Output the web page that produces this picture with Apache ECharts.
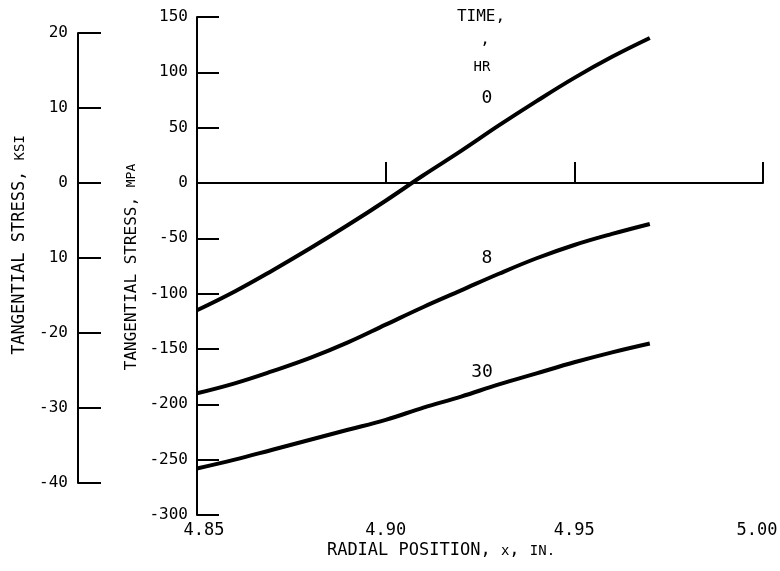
<!DOCTYPE html>
<html>
<head>
<meta charset="utf-8">
<script src="https://cdn.jsdelivr.net/npm/echarts@6/dist/echarts.min.js"></script>
<style>
html,body{margin:0;padding:0;background:#fff;}
#c{width:780px;height:571px;}
</style>
</head>
<body>
<div id="c"></div>
<script>
// Data
var xPositions = [4.85, 4.86, 4.87, 4.88, 4.89, 4.90, 4.91, 4.92, 4.93, 4.94, 4.95, 4.96, 4.97];
var stressHr0  = [-115, -98, -79, -59, -38, -16, 7, 29, 52, 74, 95, 114, 131];
var stressHr8  = [-190, -181, -170, -158, -144, -128, -112, -97, -82, -68, -56, -46, -37];
var stressHr30 = [-258, -250, -241, -232, -223, -214, -203, -193, -182, -172, -162, -153, -145];
var seriesNames = ['0', '8', '30'];
var xTicks = [4.85, 4.90, 4.95, 5.00];
var mpaTicks = [-300, -250, -200, -150, -100, -50, 0, 50, 100, 150];
var ksiTicks = [-40, -30, -20, -10, 0, 10, 20];
var ksiTickLabels = ['-40', '-30', '-20', '10', '0', '10', '20'];

var FONT = '"DejaVu Sans Mono", "Liberation Mono", monospace';
var chart = echarts.init(document.getElementById('c'));

function pairs(xs, ys) { return xs.map(function (x, i) { return [x, ys[i]]; }); }
var lineStyle = { color: '#000', width: 4 };
function mkSeries(name, ys, extra) {
  var s = {
    name: name, type: 'line', xAxisIndex: 0, yAxisIndex: 0,
    data: pairs(xPositions, ys), smooth: 0.4, showSymbol: false, silent: true,
    lineStyle: lineStyle, z: 5
  };
  if (extra) for (var k in extra) s[k] = extra[k];
  return s;
}

var option = {
  backgroundColor: '#fff',
  animation: false,
  textStyle: { fontFamily: FONT, color: '#000' },
  grid: [
    { left: 197, top: 17, right: 17, bottom: 56, containLabel: false, outerBoundsMode: 'none' },
    { left: 78, top: 33, width: 40, height: 450, containLabel: false, outerBoundsMode: 'none' }
  ],
  xAxis: [
    {
      type: 'value', gridIndex: 0, min: 4.85, max: 5.00, interval: 0.05,
      axisLine: { show: true, lineStyle: { color: '#000', width: 2 } },
      axisTick: { show: true, inside: true, length: 21, lineStyle: { color: '#000', width: 2 } },
      splitLine: { show: false },
      axisLabel: { color: '#000', fontFamily: FONT, fontSize: 17, margin: 7,
        formatter: function (v) {
          var t = v.toFixed(2);
          if (t === xTicks[0].toFixed(2)) return '{l|' + t + '}';
          if (t === xTicks[xTicks.length - 1].toFixed(2)) return '{r|' + t + '}';
          return t;
        },
        rich: {
          l: { fontFamily: FONT, fontSize: 17, color: '#000', padding: [0, 0, 0, 14] },
          r: { fontFamily: FONT, fontSize: 17, color: '#000', padding: [0, 12, 0, 0] }
        } }
    },
    { type: 'value', gridIndex: 1, show: false, min: 0, max: 1 }
  ],
  yAxis: [
    {
      type: 'value', gridIndex: 0, min: -300, max: 150, interval: 50,
      axisLine: { show: true, lineStyle: { color: '#000', width: 2 } },
      axisTick: { show: true, inside: true, length: 22, lineStyle: { color: '#000', width: 2 } },
      splitLine: { show: false },
      axisLabel: { color: '#000', fontFamily: FONT, fontSize: 16, margin: 9 }
    },
    {
      type: 'value', gridIndex: 1, min: -40, max: 20, interval: 10, position: 'left',
      axisLine: { show: true, onZero: false, lineStyle: { color: '#000', width: 2 } },
      axisTick: { show: true, inside: true, length: 23, lineStyle: { color: '#000', width: 2 } },
      splitLine: { show: false },
      axisLabel: { color: '#000', fontFamily: FONT, fontSize: 16, margin: 10,
        formatter: function (v) {
          var i = ksiTicks.indexOf(Math.round(v));
          return i >= 0 ? ksiTickLabels[i] : '';
        } }
    }
  ],
  series: [
    mkSeries(seriesNames[0], stressHr0, {
      markLine: {
        silent: true, symbol: ['none', 'none'], label: { show: false },
        lineStyle: { color: '#000', width: 2, type: 'solid' },
        data: [{ yAxis: 0 }]
      }
    }),
    mkSeries(seriesNames[1], stressHr8),
    mkSeries(seriesNames[2], stressHr30)
  ],
  graphic: [
    { type: 'text', x: 481, y: 17, style: { text: 'TIME,', font: '16px ' + FONT, fill: '#000', align: 'center', verticalAlign: 'middle' } },
    { type: 'text', x: 485, y: 40, style: { text: ',', font: '16px ' + FONT, fill: '#000', align: 'center', verticalAlign: 'middle' } },
    { type: 'text', x: 482, y: 67, style: { text: 'HR', font: '14px ' + FONT, fill: '#000', align: 'center', verticalAlign: 'middle' } },
    { type: 'text', x: 487, y: 98, style: { text: seriesNames[0], font: '18px ' + FONT, fill: '#000', align: 'center', verticalAlign: 'middle' } },
    { type: 'text', x: 487, y: 258, style: { text: seriesNames[1], font: '18px ' + FONT, fill: '#000', align: 'center', verticalAlign: 'middle' } },
    { type: 'text', x: 482, y: 372, style: { text: seriesNames[2], font: '18px ' + FONT, fill: '#000', align: 'center', verticalAlign: 'middle' } },
    { type: 'text', x: 441, y: 551,
      style: { text: '{a|RADIAL POSITION, }{b|x}{a|, }{b|IN.}', align: 'center', verticalAlign: 'middle',
        rich: { a: { font: '17px ' + FONT, fill: '#000' }, b: { font: '14px ' + FONT, fill: '#000' } } } },
    { type: 'text', x: 20, y: 245, rotation: Math.PI / 2,
      style: { text: '{a|TANGENTIAL STRESS, }{b|KSI}', align: 'center', verticalAlign: 'middle',
        rich: { a: { font: '17px ' + FONT, fill: '#000' }, b: { font: '14px ' + FONT, fill: '#000' } } } },
    { type: 'text', x: 132, y: 267, rotation: Math.PI / 2,
      style: { text: '{a|TANGENTIAL STRESS, }{b|MPA}', align: 'center', verticalAlign: 'middle',
        rich: { a: { font: '16px ' + FONT, fill: '#000' }, b: { font: '13px ' + FONT, fill: '#000' } } } }
  ]
};
chart.setOption(option);
</script>
</body>
</html>
